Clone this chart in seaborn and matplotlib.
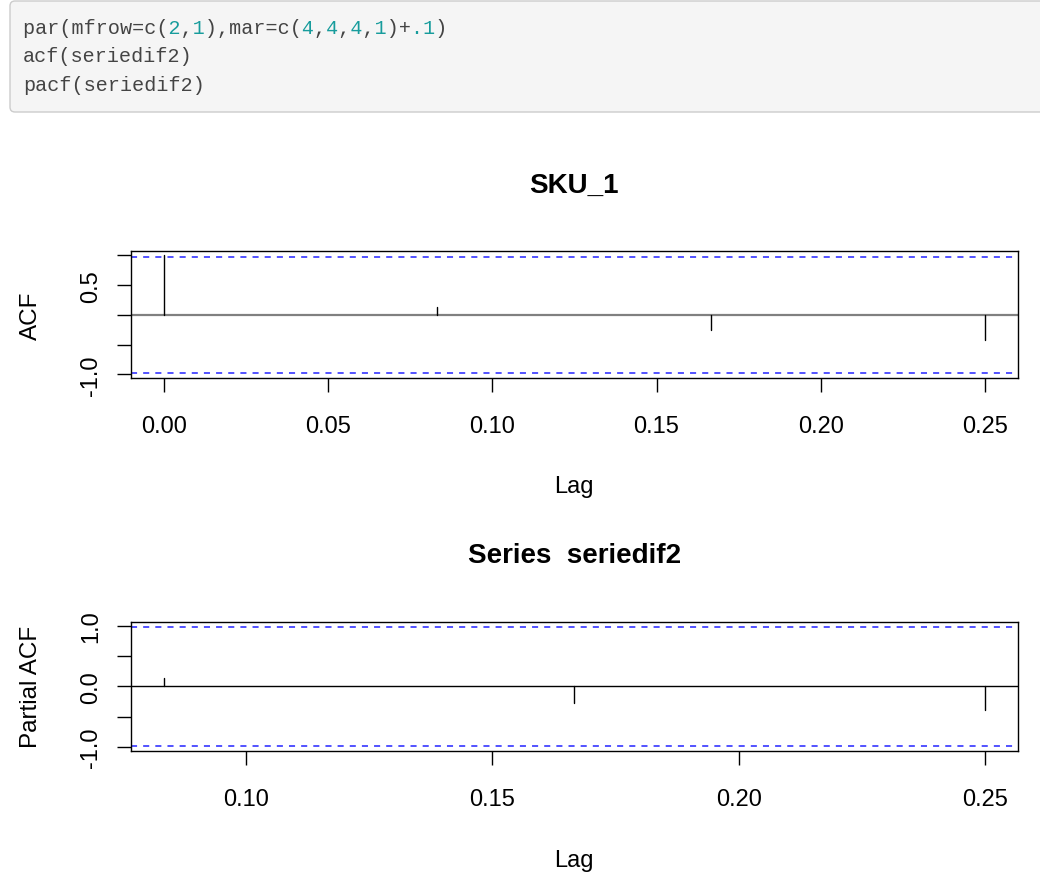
import re
import numpy as np
import pandas as pd
import matplotlib
matplotlib.use("Agg")
import matplotlib.pyplot as plt
from matplotlib.patches import FancyBboxPatch
import seaborn as sns

# ---------------- data ----------------
code_lines = [
    "par(mfrow=c(2,1),mar=c(4,4,4,1)+.1)",
    "acf(seriedif2)",
    "pacf(seriedif2)",
]

acf_title = "SKU_1"
acf_lags = [0.0, 1 / 12, 2 / 12, 3 / 12]
acf_values = [1.0, 0.13, -0.25, -0.42]
acf_xticks = [0.00, 0.05, 0.10, 0.15, 0.20, 0.25]
acf_xticklabels = ["0.00", "0.05", "0.10", "0.15", "0.20", "0.25"]
acf_yticks = [-1.0, -0.5, 0.0, 0.5, 1.0]
acf_yticklabels = ["-1.0", "", "", "0.5", ""]

pacf_title = "Series  seriedif2"
pacf_lags = [1 / 12, 2 / 12, 3 / 12]
pacf_values = [0.13, -0.27, -0.385]
pacf_xticks = [0.10, 0.15, 0.20, 0.25]
pacf_xticklabels = ["0.10", "0.15", "0.20", "0.25"]
pacf_yticks = [-1.0, -0.5, 0.0, 0.5, 1.0]
pacf_yticklabels = ["-1.0", "", "0.0", "", "1.0"]

conf_limit = 0.98  # 1.96 / sqrt(n)

# ---------------- style ----------------
sns.set_style("ticks", rc={
    "axes.edgecolor": "black",
    "xtick.color": "black",
    "ytick.color": "black",
    "axes.labelcolor": "black",
    "text.color": "black",
    "axes.linewidth": 1.0,
})
plt.rcParams["font.family"] = ["Liberation Sans", "DejaVu Sans"]

W, H = 1040, 887
fig = plt.figure(figsize=(W / 100, H / 100), dpi=100)
fig.patch.set_facecolor("white")


def px_rect(left, top, right, bottom):
    return [left / W, 1 - bottom / H, (right - left) / W, (bottom - top) / H]


# ---------------- code block ----------------
box = FancyBboxPatch((10 / 100, (H - 113) / 100), 1100 / 100, 111 / 100,
                     boxstyle="round,pad=0,rounding_size=0.05",
                     transform=fig.dpi_scale_trans,
                     fc="#f5f5f5", ec="#cccccc", lw=1.0)
fig.patches.append(box)

code_size = 14.5
baselines = [34.0, 62.5, 91.0]
num_re = re.compile(r"(?<![A-Za-z0-9_])\.?\d+")
for line, base in zip(code_lines, baselines):
    mask = [False] * len(line)
    for m in num_re.finditer(line):
        for i in range(m.start(), m.end()):
            mask[i] = True
    dark = "".join(" " if mask[i] else c for i, c in enumerate(line))
    teal = "".join(c if mask[i] else " " for i, c in enumerate(line))
    for txt, col in ((dark, "#444444"), (teal, "#179c9c")):
        fig.text(23 / 100, (H - base) / 100, txt, transform=fig.dpi_scale_trans,
                 family="Liberation Mono", fontsize=code_size, color=col,
                 ha="left", va="baseline")


# ---------------- panels ----------------
def spikes_frame(lags, vals):
    rows = []
    for l, v in zip(lags, vals):
        rows.append({"lag": l, "value": 0.0})
        rows.append({"lag": l, "value": v})
    return pd.DataFrame(rows)


def draw_panel(ax, lags, vals, xlim, ylim, xticks, xticklabels, yticks, yticklabels,
               title, ylabel, zero_color, zero_lw, title_pad, xlabel_y, ylabel_x):
    df = spikes_frame(lags, vals)
    ax.axhline(0, color=zero_color, lw=zero_lw, zorder=2)
    sns.lineplot(data=df, x="lag", y="value", units="lag", estimator=None,
                 color="black", lw=1.0, ax=ax, zorder=3)
    for c in (conf_limit, -conf_limit):
        ax.axhline(c, color="#3d3dff", lw=1.25, dashes=(3.5, 3.5), zorder=2)
    ax.set_xlim(*xlim)
    ax.set_ylim(*ylim)
    ax.set_xticks(xticks)
    ax.set_xticklabels(xticklabels)
    ax.set_yticks(yticks)
    ax.set_yticklabels(yticklabels)
    ax.tick_params(axis="both", direction="out", length=10, width=1.0,
                   labelsize=17, colors="black")
    ax.tick_params(axis="x", pad=16.6)
    ax.tick_params(axis="y", pad=10.7, labelrotation=90)
    for lab in ax.get_yticklabels():
        lab.set_va("center")
    for sp in ax.spines.values():
        sp.set_visible(True)
        sp.set_color("black")
        sp.set_linewidth(1.0)
    ax.set_title(title, fontsize=20, fontweight="bold", pad=title_pad, color="black")
    ax.set_xlabel("Lag", fontsize=17)
    ax.set_ylabel(ylabel, fontsize=17.5)
    ax.xaxis.set_label_coords(0.5, xlabel_y)
    ax.xaxis.label.set_va("baseline")
    ax.yaxis.set_label_coords(ylabel_x, 0.5)
    ax.yaxis.label.set_va("baseline")
    ax.grid(False)


ax1 = fig.add_axes(px_rect(130.7, 251.7, 1018, 379))
draw_panel(ax1, acf_lags, acf_values, (-0.01, 0.26), (-1.0592, 1.0792),
           acf_xticks, acf_xticklabels, acf_yticks, acf_yticklabels,
           acf_title, "ACF", "#808080", 1.6, 42.0,
           (379 - 493.3) / 127.3, (37 - 130.7) / 887.3)

ax2 = fig.add_axes(px_rect(130.7, 623, 1018, 751.6))
draw_panel(ax2, pacf_lags, pacf_values, (0.076667, 0.256667), (-1.0584, 1.0584),
           pacf_xticks, pacf_xticklabels, pacf_yticks, pacf_yticklabels,
           pacf_title, "Partial ACF", "black", 1.0, 43.0,
           (751.6 - 866.7) / 128.6, (37 - 130.7) / 887.3)

fig.savefig("out.png", dpi=100, facecolor="white")
